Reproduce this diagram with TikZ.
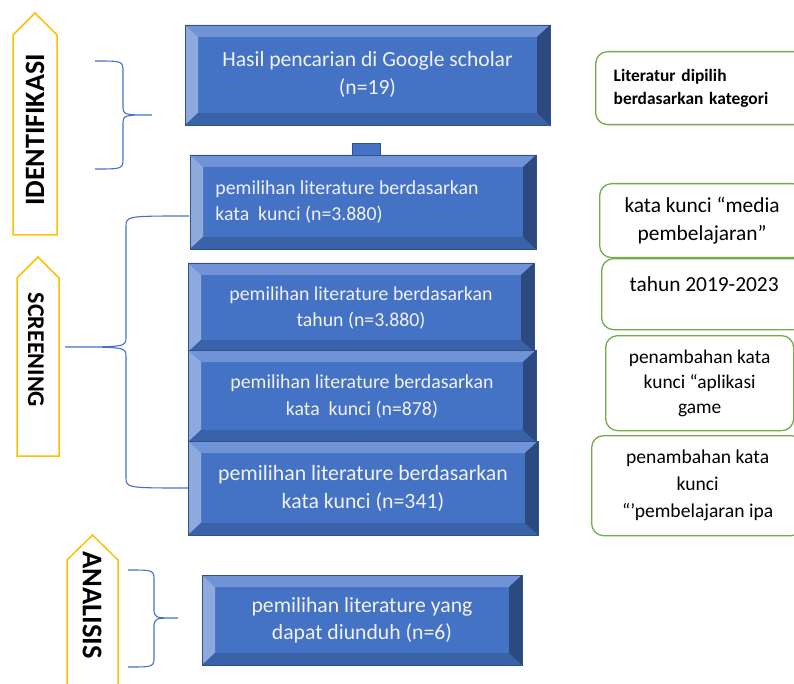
\documentclass[tikz,border=0pt]{standalone}
\usepackage{fontspec}
\setmainfont{Carlito}
\definecolor{face}{HTML}{4472C4}
\definecolor{bevtop}{HTML}{6F93D6}
\definecolor{bevleft}{HTML}{8EA9DB}
\definecolor{bevbot}{HTML}{3A62A8}
\definecolor{bevright}{HTML}{2C4A80}
\definecolor{boxline}{HTML}{2F528F}
\definecolor{gborder}{HTML}{70AD47}
\definecolor{yborder}{HTML}{FFC000}
\definecolor{bracecol}{HTML}{4472C4}
% beveled box: [text options]{name}{x1}{y1}{x2}{y2}{text}
\newcommand\bevbox[7][]{
	\fill[face] (#3,#4) rectangle (#5,#6);
	\fill[bevtop] (#3,#4) -- (#5,#4) -- (#5-13,#4+12) -- (#3+13,#4+12) -- cycle;
	\fill[bevleft] (#3,#4) -- (#3+13,#4+12) -- (#3+13,#6-12) -- (#3,#6) -- cycle;
	\fill[bevbot] (#3,#6) -- (#3+13,#6-12) -- (#5-13,#6-12) -- (#5,#6) -- cycle;
	\fill[bevright] (#5,#4) -- (#5-13,#4+12) -- (#5-13,#6-12) -- (#5,#6) -- cycle;
	\draw[boxline] (#3,#4) rectangle (#5,#6);
	\node[boxtext,#1] (#2) at ({(#3+#5)/2},{(#4+#6)/2}) {#7};
}
% curly brace: {x end}{x spine}{x tip}{y top}{y mid}{y bottom}
\newcommand\curlybrace[6]{
	\draw[curly] (#1,#4) .. controls (#2,#4) .. (#2,#4+11) -- (#2,#5-10) .. controls (#2,#5) .. (#3,#5)
		.. controls (#2,#5) .. (#2,#5+10) -- (#2,#6-11) .. controls (#2,#6) .. (#1,#6);
}

\begin{document}
\begin{tikzpicture}[x=1pt,y=-1pt,
	boxtext/.style={text=white!95!black, align=center, font=\fontsize{19.8}{26}\selectfont},
	gbox/.style={draw=gborder, line width=1.3pt, rounded corners=12pt, fill=white, align=center, inner sep=0pt, anchor=north west},
	yarrow/.style={draw=yborder, line width=1.5pt, fill=white},
	sidelabel/.style={font=\bfseries\fontsize{28}{28}\selectfont},
	curly/.style={draw=bracecol, line width=1.1pt}]
	\useasboundingbox (0,0) rectangle (794,684);
	\clip (0,0) rectangle (794,684);
	
	% side arrows
	\draw[yarrow] (13,235) -- (13,35) -- (35,13) -- (57,35) -- (57,235) -- cycle;
	\draw[yarrow] (17,456) -- (17,278) -- (38,257) -- (59,278) -- (59,456) -- cycle;
	\draw[yarrow] (67,700) -- (67,560) -- (92.5,535) -- (118,560) -- (118,700) -- cycle;
	\node[sidelabel, rotate=90] (identifikasi) at (35,130) {IDENTIFIKASI};
	\node[sidelabel, rotate=-90, font=\bfseries\fontsize{24}{24}\selectfont] (screening) at (36,350) {SCREENING};
	\node[sidelabel, rotate=-90, font=\bfseries\fontsize{28.5}{28.5}\selectfont] (analisis) at (92,605) {ANALISIS};
	
	% braces
	\curlybrace{95}{123}{152}{61}{115}{169}
	\curlybrace{189}{126}{65}{216}{347}{488}
	\curlybrace{128}{154}{178}{570}{618}{667}
	
	% steps
	\bevbox[font=\fontsize{21.6}{28}\selectfont]{search}{185}{25}{550}{125}{Hasil pencarian di Google scholar\\(n=19)}
	\fill[face, draw=boxline] (352,143) rectangle (380,156);
	\bevbox[align=left, xshift=-16pt]{kunci}{190}{155}{536}{249}{pemilihan literature berdasarkan\\kata~ kunci (n=3.880)}
	\bevbox{tahun}{188}{263}{534}{352}{pemilihan literature berdasarkan\\tahun (n=3.880)}
	\bevbox[font=\fontsize{19.8}{27}\selectfont]{aplikasi}{188}{350}{536}{442}{pemilihan literature berdasarkan\\kata~ kunci (n=878)}
	\bevbox[font=\fontsize{21.8}{28}\selectfont]{ipa}{188}{441}{538}{535}{pemilihan literature berdasarkan\\kata kunci (n=341)}
	\bevbox[font=\fontsize{21.7}{27}\selectfont]{unduh}{202}{575}{522}{665}{pemilihan literature yang\\dapat diunduh (n=6)}
	
	% criteria
	\node[gbox, minimum width=225pt, minimum height=73pt, text width=189pt, inner xsep=18pt, align=left,
		font=\bfseries\fontsize{17.4}{23}\selectfont] (kategori) at (595,51) {Literatur dipilih\\berdasarkan kategori};
	\node[gbox, minimum width=205pt, minimum height=74pt, font=\fontsize{21.4}{28}\selectfont] (media) at (599,183) {kata kunci “media\\pembelajaran”};
	\node[gbox, minimum width=205pt, minimum height=71pt, text depth=20pt, font=\fontsize{21.4}{28}\selectfont] (rentang) at (601,258) {tahun 2019-2023};
	\node[gbox, minimum width=188pt, minimum height=95pt, font=\fontsize{19.4}{25}\selectfont] (game) at (605,335) {penambahan kata\\kunci “aplikasi\\game};
	\node[gbox, minimum width=212pt, minimum height=100pt, font=\fontsize{19.6}{27}\selectfont] (pembelajaran) at (591,435) {penambahan kata\\kunci\\“’pembelajaran ipa};
\end{tikzpicture}
\end{document}
